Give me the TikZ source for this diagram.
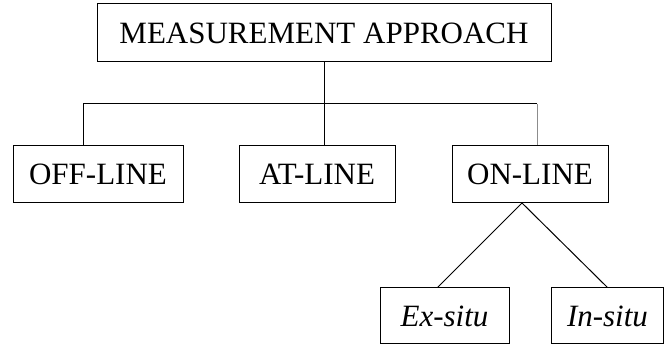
\documentclass[tikz,border=0pt]{standalone}
\usepackage{fontspec}
\setmainfont{Liberation Serif}
\begin{document}
\begin{tikzpicture}[x=1pt,y=1pt,
  box/.style={draw=black,line width=1pt,inner sep=0pt,font=\fontsize{31}{37}\selectfont,anchor=center},
  conn/.style={draw=black,line width=1pt}]
\useasboundingbox (0,0) rectangle (665,345);
\node[box,minimum width=454pt,minimum height=58pt] (top) at (324,312) {MEASUREMENT APPROACH};
\node[box,minimum width=170pt,minimum height=57pt] (off) at (98,170.5) {OFF-LINE};
\node[box,minimum width=156pt,minimum height=57pt] (at) at (317,170.5) {AT-LINE};
\node[box,minimum width=156pt,minimum height=57pt] (on) at (530,170.5) {ON-LINE};
\node[box,minimum width=129pt,minimum height=56pt] (ex) at (444.5,29) {\itshape Ex-situ};
\node[box,minimum width=112pt,minimum height=56pt] (in) at (607.5,29) {\itshape In-situ};
\coordinate (bl) at (83,241);
\coordinate (br) at (537,241);
\coordinate (bm) at (324,241);
\coordinate (apex) at (522,142);
\draw[conn] (bl) -- (br);
\draw[conn] (top.south) -- (bm);
\draw[conn] (bl) -- (bl |- off.north);
\draw[conn] (bm) -- (bm |- at.north);
\draw[conn,draw=black!45] (br) -- (br |- on.north);
\draw[conn] (apex) -- ([xshift=-7pt]ex.north);
\draw[conn] (apex) -- (in.north);
\end{tikzpicture}
\end{document}
